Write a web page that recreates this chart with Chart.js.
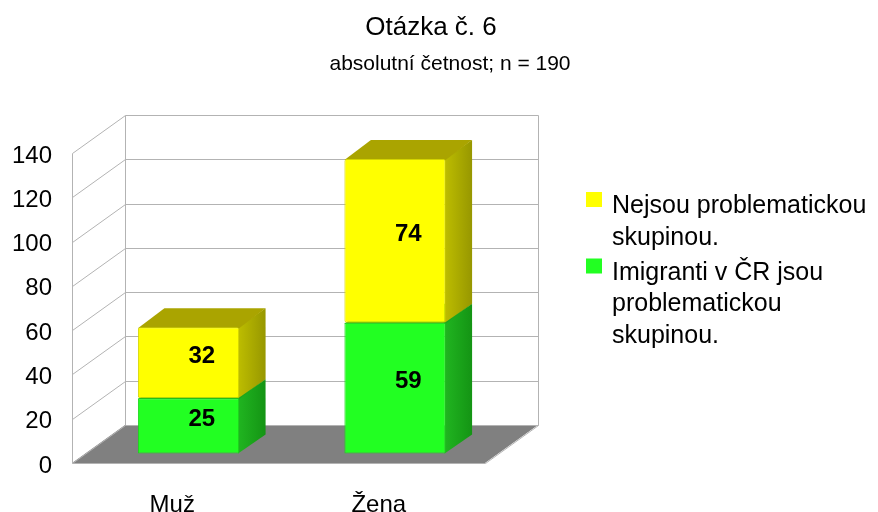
<!DOCTYPE html>
<html>
<head>
<meta charset="utf-8">
<script src="https://cdn.jsdelivr.net/npm/chart.js@4.4.0/dist/chart.umd.min.js"></script>
<style>
html, body { margin: 0; padding: 0; background: #fff; }
#wrap { width: 878px; height: 512px; }
</style>
</head>
<body>
<div id="wrap"><canvas id="otazkaChart" width="878" height="512"></canvas></div>
<script>
var categories = ['Muž', 'Žena'];
var imigranti = [25, 59];
var nejsou = [32, 74];
var seriesNames = ['Imigranti v ČR jsou problematickou skupinou.', 'Nejsou problematickou skupinou.'];
var yMin = 0, yMax = 140, yStep = 20;
var titleText = 'Otázka č. 6';
var subtitleText = 'absolutní četnost; n = 190';

var FONT = '"Liberation Sans", Arial, sans-serif';
// depth of the 3D box (floor) and where the bars sit inside it
var DEPTH_X = 53, DEPTH_Y = -38;
var BAR_FRONT = 0.25, BAR_DEPTH = 0.5;

var faces = [
    { front: '#22ff22', border: '#1cd41c', side: ['#20b420', '#149414'], top: '#1da51d' },
    { front: '#ffff00', border: '#d4d400', side: ['#bcbc00', '#979700'], top: '#aaa400' }
];

function wrapText(ctx, text, maxWidth) {
    var words = text.split(' '), lines = [], cur = '';
    words.forEach(function(w) {
        var test = cur ? cur + ' ' + w : w;
        if (cur && ctx.measureText(test).width > maxWidth) {
            lines.push(cur);
            cur = w;
        } else {
            cur = test;
        }
    });
    if (cur) lines.push(cur);
    return lines;
}

var box3d = {
    id: 'box3d',
    beforeDatasetsDraw: function(chart) {
        var ctx = chart.ctx, a = chart.chartArea, ys = chart.scales.y;
        var L = Math.round(a.left) + 0.5, R = Math.round(a.right) + 0.5;
        ctx.save();

        // floor
        ctx.fillStyle = '#808080';
        ctx.beginPath();
        ctx.moveTo(a.left, a.bottom);
        ctx.lineTo(a.right, a.bottom);
        ctx.lineTo(a.right + DEPTH_X, a.bottom + DEPTH_Y);
        ctx.lineTo(a.left + DEPTH_X, a.bottom + DEPTH_Y);
        ctx.closePath();
        ctx.fill();

        // walls + grid
        ctx.strokeStyle = '#b3b3b3';
        ctx.lineWidth = 1;
        for (var v = yMin + yStep; v <= yMax; v += yStep) {
            var py = Math.round(ys.getPixelForValue(v)) + 0.5;
            ctx.beginPath();
            ctx.moveTo(L, py);
            ctx.lineTo(L + DEPTH_X, py + DEPTH_Y);
            ctx.lineTo(R + DEPTH_X, py + DEPTH_Y);
            ctx.stroke();
        }
        var top = Math.round(ys.getPixelForValue(yMax)) + 0.5;
        var bot = Math.round(ys.getPixelForValue(yMin)) + 0.5;
        ctx.beginPath();
        ctx.moveTo(L, top); ctx.lineTo(L, bot);
        ctx.lineTo(L + DEPTH_X, bot + DEPTH_Y);
        ctx.lineTo(R + DEPTH_X, bot + DEPTH_Y);
        ctx.moveTo(L + DEPTH_X, top + DEPTH_Y); ctx.lineTo(L + DEPTH_X, bot + DEPTH_Y);
        ctx.moveTo(R + DEPTH_X, top + DEPTH_Y); ctx.lineTo(R + DEPTH_X, bot + DEPTH_Y);
        ctx.moveTo(L, bot); ctx.lineTo(R, bot); ctx.lineTo(R + DEPTH_X, bot + DEPTH_Y);
        ctx.stroke();

        // side and top faces of the bars
        var fx = DEPTH_X * BAR_FRONT, fy = DEPTH_Y * BAR_FRONT;
        var bx = DEPTH_X * BAR_DEPTH, by = DEPTH_Y * BAR_DEPTH;
        chart.data.datasets.forEach(function(ds, i) {
            var meta = chart.getDatasetMeta(i);
            var f = faces[i];
            meta.data.forEach(function(bar) {
                var p = bar.getProps(['x', 'y', 'base', 'width'], true);
                var l = p.x - p.width / 2 + fx, r = p.x + p.width / 2 + fx;
                var t = p.y + fy, b = p.base + fy;
                var g = ctx.createLinearGradient(r, 0, r + bx, 0);
                g.addColorStop(0, f.side[0]);
                g.addColorStop(1, f.side[1]);
                ctx.fillStyle = g;
                ctx.beginPath();
                ctx.moveTo(r - 1, b);
                ctx.lineTo(r - 1, t);
                ctx.lineTo(r + bx, t + by);
                ctx.lineTo(r + bx, b + by);
                ctx.closePath();
                ctx.fill();
                ctx.fillStyle = f.top;
                ctx.beginPath();
                ctx.moveTo(l, t + 1);
                ctx.lineTo(r, t + 1);
                ctx.lineTo(r + bx, t + by);
                ctx.lineTo(l + bx, t + by);
                ctx.closePath();
                ctx.fill();
            });
        });
        ctx.restore();

        // front faces are drawn by Chart.js, pushed back into the box
        ctx.save();
        ctx.translate(fx, fy);
    },
    afterDatasetsDraw: function(chart) {
        var ctx = chart.ctx;
        ctx.restore();
        var cx = DEPTH_X * (BAR_FRONT + BAR_DEPTH / 2), cy = DEPTH_Y * (BAR_FRONT + BAR_DEPTH / 2);
        ctx.save();
        ctx.font = 'bold 24px ' + FONT;
        ctx.fillStyle = '#000';
        ctx.textAlign = 'center';
        ctx.textBaseline = 'middle';
        chart.data.datasets.forEach(function(ds, i) {
            chart.getDatasetMeta(i).data.forEach(function(bar, j) {
                var p = bar.getProps(['x', 'y', 'base'], true);
                ctx.fillText(String(ds.data[j]), p.x + cx, (p.y + p.base) / 2 + cy + 3);
            });
        });
        ctx.restore();
    },
    afterDraw: function(chart) {
        var ctx = chart.ctx;
        ctx.save();
        ctx.fillStyle = '#000';
        ctx.textAlign = 'center';
        ctx.textBaseline = 'alphabetic';
        ctx.font = '26px ' + FONT;
        ctx.fillText(titleText, 431, 35);
        ctx.font = '21px ' + FONT;
        ctx.fillText(subtitleText, 450, 70);

        // legend, top series first
        ctx.textAlign = 'left';
        ctx.font = '25px ' + FONT;
        var y = 213;
        for (var i = chart.data.datasets.length - 1; i >= 0; i--) {
            ctx.fillStyle = faces[i].front;
            ctx.fillRect(586, y - 21, 16, 15);
            ctx.fillStyle = '#000';
            var lines = wrapText(ctx, chart.data.datasets[i].label, 262);
            lines.forEach(function(line, k) {
                ctx.fillText(line, 612, y + k * 31.5);
            });
            y += lines.length * 31.5 + 3.5;
        }
        ctx.restore();
    }
};

var ctx = document.getElementById('otazkaChart').getContext('2d');
var chart = new Chart(ctx, {
    type: 'bar',
    data: {
        labels: categories,
        datasets: [{
            label: seriesNames[0],
            data: imigranti,
            backgroundColor: faces[0].front,
            borderColor: faces[0].border,
            borderWidth: 1,
            borderSkipped: false,
            borderRadius: 2
        }, {
            label: seriesNames[1],
            data: nejsou,
            backgroundColor: faces[1].front,
            borderColor: faces[1].border,
            borderWidth: 1,
            borderSkipped: false,
            borderRadius: 2
        }]
    },
    options: {
        responsive: false,
        animation: false,
        events: [],
        layout: { padding: { top: 153, right: 393, left: 0, bottom: 0 } },
        datasets: { bar: { categoryPercentage: 1, barPercentage: 0.49, clip: false } },
        plugins: {
            legend: { display: false },
            title: { display: false },
            tooltip: { enabled: false }
        },
        scales: {
            x: {
                stacked: true,
                grid: { display: false },
                border: { display: false },
                afterFit: function(s) { s.height = 49; },
                ticks: { color: '#000', padding: 20, labelOffset: -3, font: { family: FONT, size: 24 } }
            },
            y: {
                stacked: true,
                min: yMin,
                max: yMax,
                grid: { display: false, drawTicks: false },
                border: { display: false },
                afterFit: function(s) { s.width = 72; },
                ticks: { stepSize: yStep, color: '#000', padding: 20, labelOffset: 3, font: { family: FONT, size: 24 } }
            }
        }
    },
    plugins: [box3d]
});
</script>
</body>
</html>
